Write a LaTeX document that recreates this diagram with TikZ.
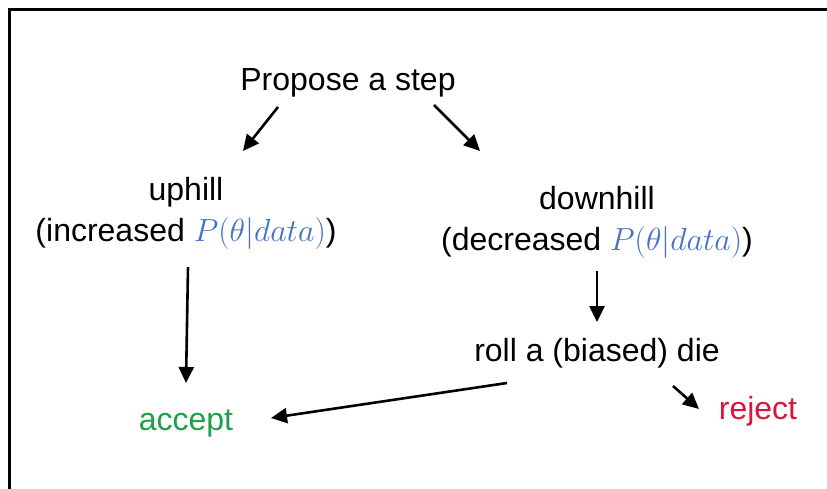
\documentclass[tikz,border=0pt]{standalone}
\usepackage{fix-cm}
\usepackage{fontspec}
\setmainfont{Liberation Sans}
\usetikzlibrary{arrows.meta,calc}

\definecolor{mathblue}{RGB}{68,114,196}
\definecolor{acceptgreen}{RGB}{30,160,75}
\definecolor{rejectred}{RGB}{220,20,60}

\begin{document}
\begin{tikzpicture}[x=1pt, y=-1pt,
    txt/.style = {inner sep=0pt, align=center, font=\fontsize{32}{41}\selectfont},
    arr/.style = {line width=2.6pt, -{Triangle[length=16pt, width=15pt]}}]
    
    \useasboundingbox (0,0) rectangle (827,489);
    
    % Frame
    \draw[line width=3pt] (9.5,489) -- (9.5,9.5) -- (827,9.5);
    
    % Text
    \node[txt] (prop) at (348,83) {Propose a step};
    \node[txt] (up) at (186,213) {uphill\\(increased \textcolor{mathblue}{$P(\theta|data)$})};
    \node[txt] (down) at (597,222) {downhill\\(decreased \textcolor{mathblue}{$P(\theta|data)$})};
    \node[txt] (roll) at (597,353) {roll a (biased) die};
    \node[txt, text=acceptgreen] (acc) at (186,423) {accept};
    \node[txt, text=rejectred] (rej) at (758,411) {reject};
    
    % Arrows
    \draw[arr] ($(prop)+(-70,24)$) -- ($(up)+(57,-62)$);
    \draw[arr] ($(prop)+(86,22)$) -- ($(down)+(-117,-71)$);
    \draw[arr] ($(up)+(2,54)$) -- ($(acc)+(0,-40)$);
    \draw[arr] ($(down)+(0,49)$) -- ($(roll)+(0,-31)$);
    \draw[arr] ($(roll)+(-90,30)$) -- ($(acc)+(85,-5)$);
    \draw[arr] ($(roll)+(76,33)$) -- ($(rej)+(-59,-2)$);
    
\end{tikzpicture}
\end{document}
